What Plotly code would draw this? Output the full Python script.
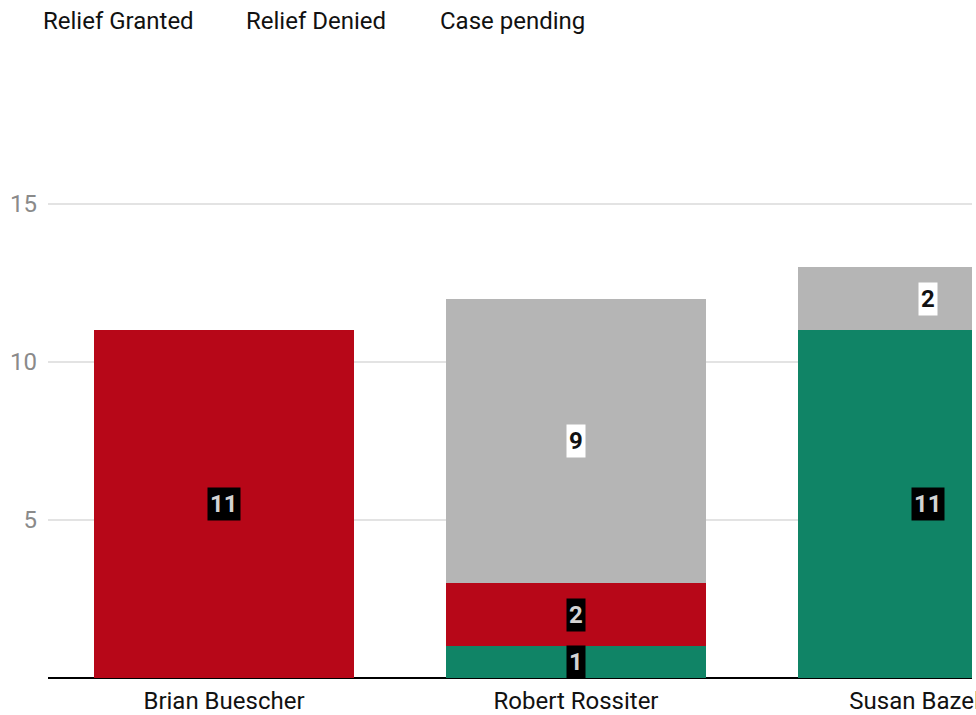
import plotly.graph_objects as go

judges = ["Brian Buescher", "Robert Rossiter", "Susan Bazelon"]
granted = [0, 1, 11]
denied = [11, 2, 0]
pending = [0, 9, 2]

series = [
    ("Relief Granted", granted, "#108466", "#000000", "#d4d4d4"),
    ("Relief Denied", denied, "#b70718", "#000000", "#d4d4d4"),
    ("Case pending", pending, "#b5b5b5", "#ffffff", "#111111"),
]

W, H = 976, 715
ML, MR, MT, MB = 48, 4, 172, 37
FONT = "Roboto"
FS = 24

fig = go.Figure()
annotations = []
bases = [0] * len(judges)
for name, vals, color, boxbg, txtcol in series:
    fig.add_trace(go.Bar(x=judges, y=vals, name=name, marker_color=color,
                         marker_line_width=0, showlegend=False))
    for i, v in enumerate(vals):
        if v > 0:
            annotations.append(dict(
                x=judges[i], y=bases[i] + v / 2, xref="x", yref="y",
                text=f"<b>{v}</b>", showarrow=False,
                font=dict(family=FONT, size=FS, color=txtcol),
                bgcolor=boxbg, borderpad=2,
            ))
        bases[i] += v

# legend as text
pw = W - ML - MR
ph = H - MT - MB
for label, px in [("Relief Granted", 41), ("Relief Denied", 244), ("Case pending", 438)]:
    annotations.append(dict(
        x=(px - ML) / pw, y=1 + (MT - 21) / ph, xref="paper", yref="paper", text=label,
        showarrow=False, xanchor="left", yanchor="middle",
        font=dict(family=FONT, size=FS, color="#111111"),
    ))

fig.update_layout(
    width=W, height=H, margin=dict(l=ML, r=MR, t=MT, b=MB, autoexpand=False),
    barmode="stack", bargap=0.26,
    plot_bgcolor="white", paper_bgcolor="white",
    font=dict(family=FONT),
    annotations=annotations,
    xaxis=dict(range=[-0.5, 2.125], showgrid=False, showline=False, ticks="",
               automargin=False, ticklabeloverflow="allow", ticklabelstandoff=6,
               tickfont=dict(family=FONT, size=FS, color="#111111"), fixedrange=True),
    yaxis=dict(range=[0, 16], tickvals=[5, 10, 15], automargin=False,
               showgrid=True, gridcolor="#e3e3e3", gridwidth=1.5,
               zeroline=True, zerolinecolor="#000000", zerolinewidth=1.5,
               showline=False, ticks="", ticklabelstandoff=10,
               tickfont=dict(family=FONT, size=FS, color="#8a8a8a")),
)

fig.write_html("out.html")
